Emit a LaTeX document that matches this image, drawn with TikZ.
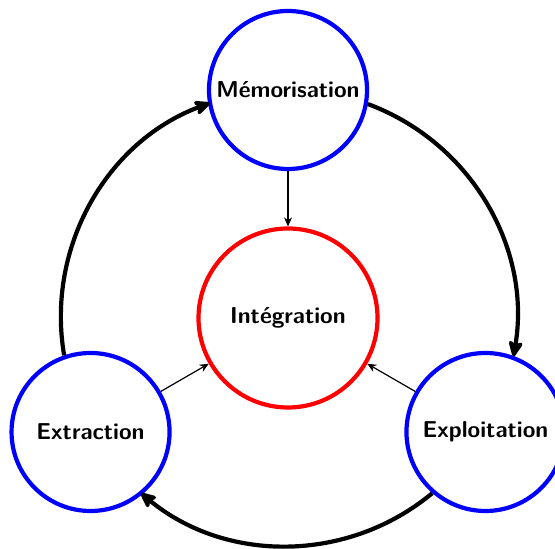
\documentclass[tikz,border=0pt]{standalone}
\usetikzlibrary{arrows.meta,calc}
\begin{document}
\begin{tikzpicture}[x=0.5pt,y=0.5pt,
  lbl/.style={font=\fontsize{11.5}{14}\selectfont\sffamily\bfseries},
  phase/.style={lbl,circle,draw=blue,line width=2.1pt,minimum size=79pt,inner sep=0pt},
  core/.style={lbl,circle,draw=red,line width=2.1pt,minimum size=89.5pt,inner sep=0pt},
  cycle/.style={line width=2.1pt,-{Stealth[length=10pt,width=9pt,inset=2.8pt,round]}},
  feed/.style={line width=0.6pt,-{Stealth[length=4.5pt,width=4pt]}}]
\useasboundingbox (0,0) rectangle (555,549);
\coordinate (c) at (288,231);
\node[core] (int) at (c) {Intégration};
\node[phase] (mem) at ($(c)+(90:228)$) {Mémorisation};
\node[phase] (ext) at ($(c)+(210:228)$) {Extraction};
\node[phase] (expl) at ($(c)+(330:228)$) {Exploitation};
\draw[cycle] (ext.109.9) arc[start angle=189.7, end angle=110.3, radius=228];
\draw[cycle] (mem.-10.1) arc[start angle=69.7, end angle=-9.7, radius=228];
\draw[cycle] (expl.229.9) arc[start angle=309.7, end angle=230.3, radius=228];
\draw[feed] (mem) -- (int);
\draw[feed] (ext) -- (int);
\draw[feed] (expl) -- (int);
\end{tikzpicture}
\end{document}
